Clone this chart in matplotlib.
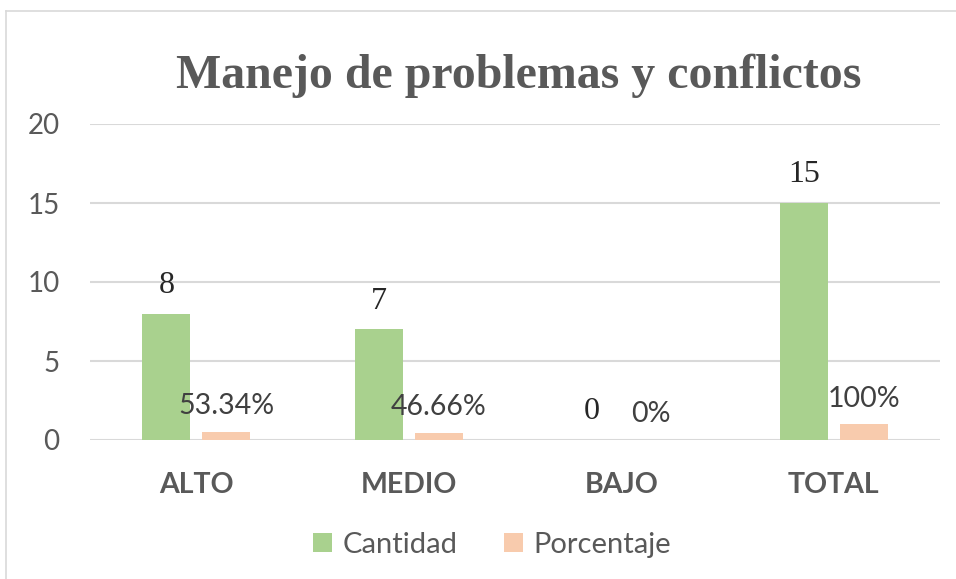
import numpy as np
import matplotlib
matplotlib.use("Agg")
import matplotlib.pyplot as plt
from matplotlib.lines import Line2D

categorias = ["ALTO", "MEDIO", "BAJO", "TOTAL"]
cantidad = [8, 7, 0, 15]
porcentaje = [0.5334, 0.4666, 0.0, 1.0]
etiq_cant = ["8", "7", "0", "15"]
etiq_porc = ["53.34%", "46.66%", "0%", "100%"]

verde = "#A9D18E"
durazno = "#F8CBAD"
gris = "#595959"

plt.rcParams["font.family"] = ["Lato", "DejaVu Sans"]

fig = plt.figure(figsize=(9.56, 5.79), dpi=100)
ax = fig.add_axes([90/956, 1-440/579, 850/956, 316/579])

x = np.arange(len(categorias))
w = 0.226
off = 0.141
ax.bar(x - off, cantidad, w, color=verde, label="Cantidad", zorder=3)
ax.bar(x + off, porcentaje, w, color=durazno, label="Porcentaje", zorder=3)

for i in range(len(categorias)):
    ax.annotate(etiq_cant[i], (x[i] - off, cantidad[i]), xytext=(0, 10),
                textcoords="offset points", ha="center", va="bottom",
                fontsize=23, color="#262626", family="Liberation Serif")
    ax.annotate(etiq_porc[i], (x[i] + off, porcentaje[i]), xytext=(0, 9),
                textcoords="offset points", ha="center", va="bottom",
                fontsize=20.5, color="#404040")

ax.set_xlim(-0.5, 3.5)
ax.set_ylim(0, 20)
ax.set_yticks([0, 5, 10, 15, 20])
ax.set_xticks(x)
ax.set_xticklabels(categorias, fontweight="bold")
ax.tick_params(axis="y", labelsize=20, labelcolor=gris, length=0, pad=22)
ax.tick_params(axis="x", labelsize=20.5, labelcolor=gris, length=0, pad=23)
ax.grid(axis="y", color="#D9D9D9", linewidth=1.5, zorder=0)
for s in ax.spines.values():
    s.set_visible(False)

fig.text(519/956, 1-76/579, "Manejo de problemas y conflictos", ha="center", va="center",
         fontsize=34.5, fontweight="bold", color=gris, family="Liberation Serif")

fig.legend(loc="center", bbox_to_anchor=(492/956, 1-545/579), ncol=2, frameon=False,
           fontsize=21, labelcolor=gris, handlelength=0.65, handleheight=0.65,
           columnspacing=1.6, handletextpad=0.35)

# marco del grafico
fig.add_artist(Line2D([6/956, 6/956], [0, 1-11/579], color="#D9D9D9", lw=1.2))
fig.add_artist(Line2D([6/956, 1], [1-11/579, 1-11/579], color="#D9D9D9", lw=1.2))

fig.savefig("out.png", dpi=100)
